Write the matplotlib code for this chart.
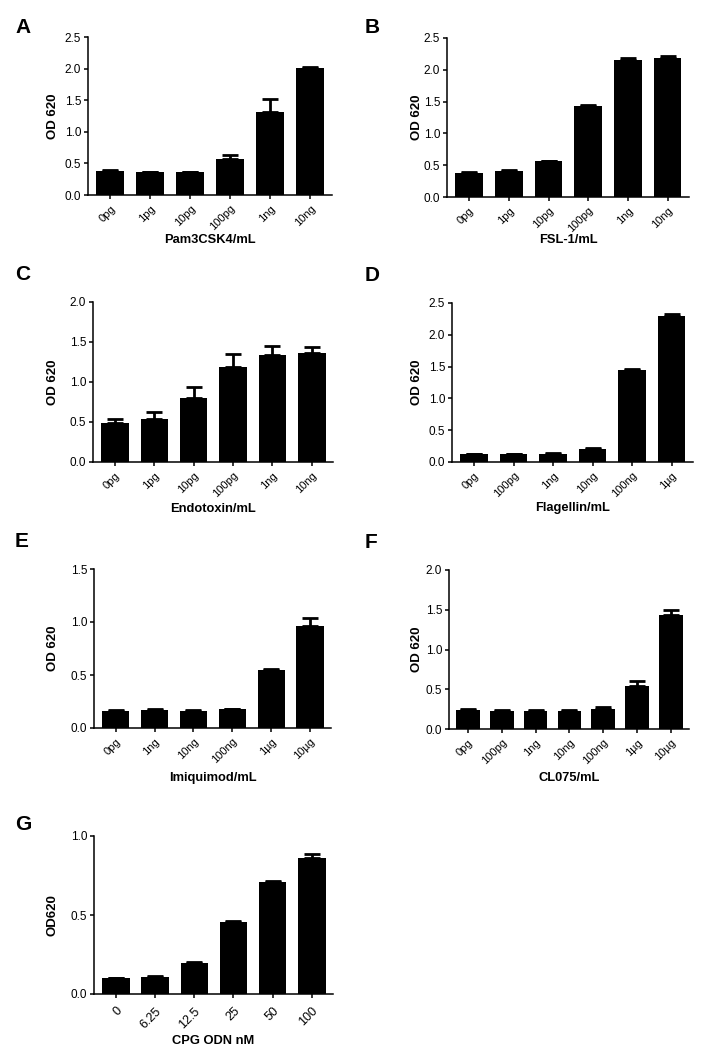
import matplotlib
matplotlib.use("Agg")
import matplotlib.pyplot as plt

plt.rcParams['font.family'] = ['Liberation Sans', 'DejaVu Sans']

# panel A: Pam3CSK4
a_labels = ['0pg', '1pg', '10pg', '100pg', '1ng', '10ng']
a_mean = [0.38, 0.36, 0.36, 0.57, 1.31, 2.01]
a_err = [0.01, 0.01, 0.01, 0.07, 0.21, 0.02]

# panel B: FSL-1
b_labels = ['0pg', '1pg', '10pg', '100pg', '1ng', '10ng']
b_mean = [0.38, 0.41, 0.56, 1.43, 2.16, 2.19]
b_err = [0.02, 0.01, 0.01, 0.01, 0.02, 0.02]

# panel C: Endotoxin
c_labels = ['0pg', '1pg', '10pg', '100pg', '1ng', '10ng']
c_mean = [0.49, 0.54, 0.80, 1.19, 1.34, 1.36]
c_err = [0.05, 0.08, 0.14, 0.16, 0.11, 0.08]

# panel D: Flagellin
d_labels = ['0pg', '100pg', '1ng', '10ng', '100ng', '1µg']
d_mean = [0.12, 0.12, 0.13, 0.21, 1.45, 2.29]
d_err = [0.01, 0.01, 0.01, 0.01, 0.02, 0.03]

# panel E: Imiquimod
e_labels = ['0pg', '1ng', '10ng', '100ng', '1µg', '10µg']
e_mean = [0.165, 0.172, 0.165, 0.175, 0.545, 0.965]
e_err = [0.003, 0.005, 0.003, 0.004, 0.015, 0.07]

# panel F: CL075
f_labels = ['0pg', '100pg', '1ng', '10ng', '100ng', '1µg', '10µg']
f_mean = [0.235, 0.225, 0.225, 0.23, 0.25, 0.54, 1.44]
f_err = [0.02, 0.015, 0.015, 0.015, 0.025, 0.06, 0.055]

# panel G: CPG ODN
g_labels = ['0', '6.25', '12.5', '25', '50', '100']
g_mean = [0.10, 0.11, 0.195, 0.455, 0.71, 0.86]
g_err = [0.002, 0.004, 0.005, 0.006, 0.006, 0.025]

W, H = 701, 1050
fig = plt.figure(figsize=(W / 100, H / 100), dpi=100)


def px_axes(left, top, right, bottom):
    return fig.add_axes([left / W, 1 - bottom / H, (right - left) / W, (bottom - top) / H])


def draw_panel(rect, labels, mean, err, ymax, yticks, xlabel, ylabel, xlab_y, ylab_x):
    ax = px_axes(*rect)
    x = list(range(len(labels)))
    ax.bar(x, mean, width=0.7, color='black', zorder=2)
    ax.errorbar(x, mean, yerr=[[0] * len(err), err], fmt='none', ecolor='black',
                elinewidth=2, capsize=5.5, capthick=2, zorder=3)
    ax.set_xlim(-0.56, len(labels) - 0.46)
    ax.set_ylim(0, ymax)
    ax.set_yticks(yticks)
    ax.set_yticklabels(['%.1f' % t for t in yticks], fontsize=8.5)
    ax.set_xticks(x)
    ax.set_xticklabels(labels, rotation=45, ha='right', rotation_mode='anchor', fontsize=8)
    for s in ['top', 'right']:
        ax.spines[s].set_visible(False)
    for s in ['left', 'bottom']:
        ax.spines[s].set_linewidth(1.1)
    ax.tick_params(direction='out', length=3, width=1.1, pad=2)
    ax.tick_params(axis='x', pad=3)
    ax.set_xlabel(xlabel, fontsize=9.3, fontweight='bold')
    ax.set_ylabel(ylabel, fontsize=9.5, fontweight='bold')
    bottom = rect[3]
    height = rect[3] - rect[1]
    width = rect[2] - rect[0]
    ax.xaxis.set_label_coords(0.5, -(xlab_y - bottom) / height)
    ax.xaxis.label.set_va('center')
    ax.yaxis.set_label_coords(-(rect[0] - ylab_x) / width, 0.5)
    ax.yaxis.label.set_va('center')
    return ax


draw_panel((88, 37, 332, 195), a_labels, a_mean, a_err, 2.5, [0, 0.5, 1.0, 1.5, 2.0, 2.5],
           'Pam3CSK4/mL', 'OD 620', 240, 53)
draw_panel((447, 38, 689, 197), b_labels, b_mean, b_err, 2.5, [0, 0.5, 1.0, 1.5, 2.0, 2.5],
           'FSL-1/mL', 'OD 620', 240, 417)
draw_panel((93, 302, 333, 462), c_labels, c_mean, c_err, 2.0, [0, 0.5, 1.0, 1.5, 2.0],
           'Endotoxin/mL', 'OD 620', 509, 53)
draw_panel((452, 303, 693, 462), d_labels, d_mean, d_err, 2.5, [0, 0.5, 1.0, 1.5, 2.0, 2.5],
           'Flagellin/mL', 'OD 620', 508, 417)
draw_panel((94, 569, 331, 728), e_labels, e_mean, e_err, 1.5, [0, 0.5, 1.0, 1.5],
           'Imiquimod/mL', 'OD 620', 778, 53)
draw_panel((449, 570, 689, 729), f_labels, f_mean, f_err, 2.0, [0, 0.5, 1.0, 1.5, 2.0],
           'CL075/mL', 'OD 620', 778, 417)
gax = draw_panel((94, 836, 333, 994), g_labels, g_mean, g_err, 1.0, [0, 0.5, 1.0],
                 'CPG ODN nM', 'OD620', 1041, 52)
gax.tick_params(axis='x', labelsize=9, pad=5)

letters = [('A', 15, 18), ('B', 365, 18), ('C', 15, 265), ('D', 365, 266),
           ('E', 15, 532), ('F', 365, 533), ('G', 15, 815)]
for txt, lx, ly in letters:
    fig.text(lx / W, 1 - ly / H, txt, fontsize=15, fontweight='bold', va='top', ha='left')

fig.savefig('out.png', dpi=100)
